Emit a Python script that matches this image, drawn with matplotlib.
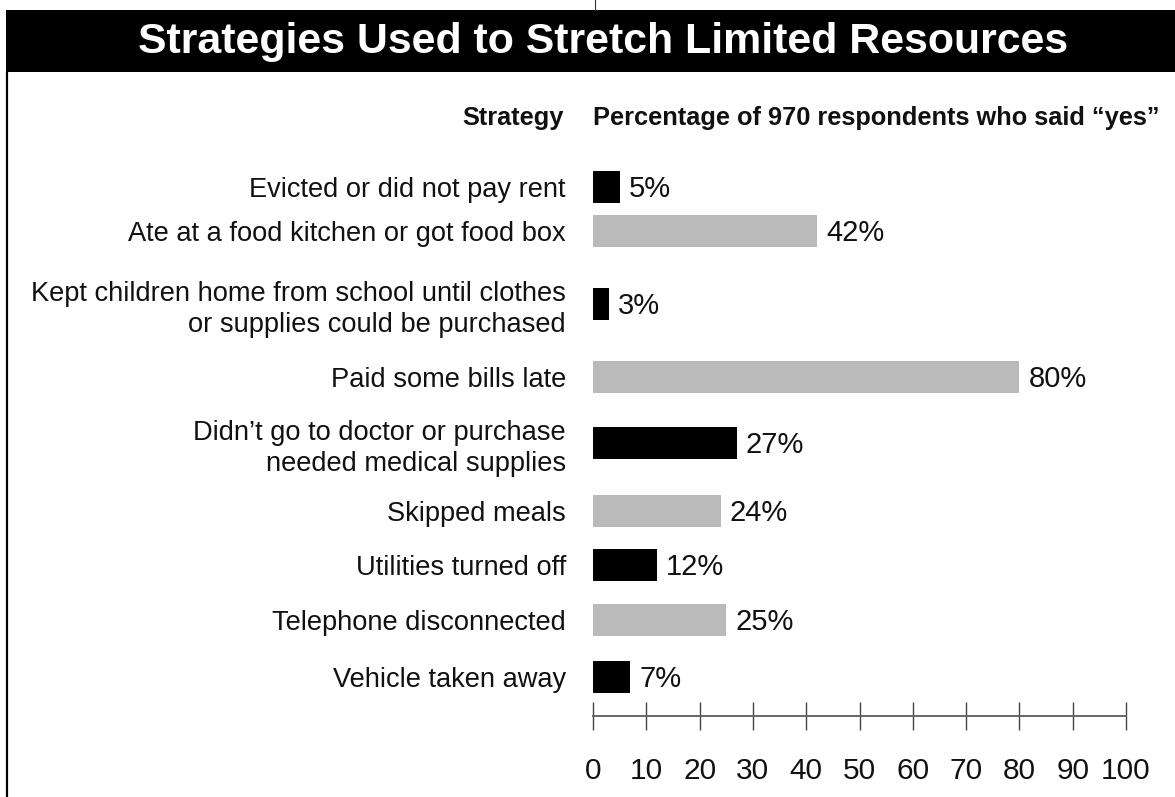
import matplotlib
matplotlib.use("Agg")
import matplotlib.pyplot as plt
from matplotlib.patches import Rectangle

#------------------------------------------------------------------------------#
# Data

title      = "Strategies Used to Stretch Limited Resources"
headLeft   = "Strategy"
headRight  = "Percentage of 970 respondents who said \u201cyes\u201d"

strategies = [
    "Evicted or did not pay rent",
    "Ate at a food kitchen or got food box",
    "Kept children home from school until clothes\nor supplies could be purchased",
    "Paid some bills late",
    "Didn\u2019t go to doctor or purchase\nneeded medical supplies",
    "Skipped meals",
    "Utilities turned off",
    "Telephone disconnected",
    "Vehicle taken away",
]
percent    = [5, 42, 3, 80, 27, 24, 12, 25, 7]
xTicks     = [0, 10, 20, 30, 40, 50, 60, 70, 80, 90, 100]

#------------------------------------------------------------------------------#
# Layout (pixels, y measured from top)

W, H    = 1175, 797
rowPx   = [187, 231, 304, 377, 443, 511, 565, 620, 677]
barH    = 32
axLeft  = 593
axRight = 1126
axBase  = 716
axTop   = 150

black = "black"
grey  = "#bababa"
barColors = [black if i % 2 == 0 else grey for i in range(len(percent))]

plt.rcParams["font.family"] = ["Liberation Sans", "DejaVu Sans"]

fig = plt.figure(figsize=(W / 100, H / 100), dpi=100)

# Background layer in pixel coordinates
bg = fig.add_axes([0, 0, 1, 1], zorder=0)
bg.set_xlim(0, W)
bg.set_ylim(H, 0)
bg.axis("off")

bg.add_patch(Rectangle((6, 10), W - 6, 62, color="black", lw=0))
bg.text(603, 42, title, color="white", fontsize=30.9, fontweight="bold",
        ha="center", va="center")
bg.plot([7, 7], [72, H], color="black", lw=1.6, solid_capstyle="butt")
bg.plot([595, 595], [0, 10], color="#333333", lw=0.8)

bg.text(564, 125, headLeft, fontsize=18.3, fontweight="bold",
        ha="right", va="baseline", color="#111111")
bg.text(593, 125, headRight, fontsize=18.3, fontweight="bold",
        ha="left", va="baseline", color="#111111")

# Bar axes
ax = fig.add_axes([axLeft / W, (H - axBase) / H,
                   (axRight - axLeft) / W, (axBase - axTop) / H], zorder=1)
ax.patch.set_alpha(0)
ax.set_xlim(0, 100)
ax.set_ylim(axBase, axTop)

ax.barh(rowPx, percent, height=barH, color=barColors, lw=0)

for y, v in zip(rowPx, percent):
    ax.annotate(f"{v}%", (v, y), xytext=(6.5, -1.2), textcoords="offset points",
                ha="left", va="center", fontsize=21, color="#111111")

ax.set_yticks(rowPx, strategies, fontsize=19.6, color="#111111",
              linespacing=1.25)
ax.tick_params(axis="y", length=0, pad=19.5)

ax.set_xticks(xTicks, [str(t) for t in xTicks], fontsize=21.5, color="#111111")
ax.tick_params(axis="x", direction="inout", length=19.5, width=1.0,
               color="#444444", pad=20)

for side in ["top", "right", "left"]:
    ax.spines[side].set_visible(False)
ax.spines["bottom"].set_color("#666666")
ax.spines["bottom"].set_linewidth(1.4)

fig.savefig("out.png", dpi=100)
